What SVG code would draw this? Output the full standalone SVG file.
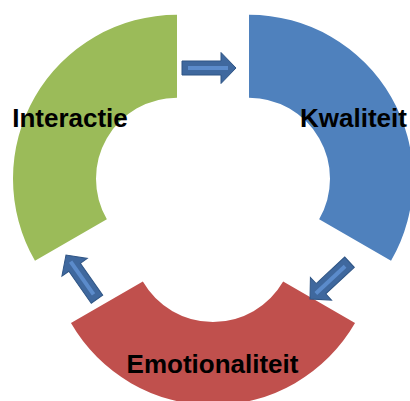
<svg xmlns="http://www.w3.org/2000/svg" width="410" height="401" viewBox="0 0 410 401">
  <style>
    .label { font-family: "Liberation Sans", Arial, sans-serif; font-weight: bold; font-size: 26px; fill: #000; }
    .arrow-body { fill: #3F689E; stroke: #2F5585; stroke-width: 1; stroke-linejoin: miter; }
    .arrow-shine { fill: #5B8BCB; }
  </style>
  <defs>
    <!-- right-pointing block arrow, tip at the origin -->
    <g id="block-arrow">
      <path class="arrow-body" d="M -54 -7 L -15 -7 L -15 -15.5 L 0 0 L -15 15.5 L -15 7 L -54 7 Z"/>
      <rect class="arrow-shine" x="-48" y="-2" width="40" height="4"/>
    </g>
  </defs>

  <!-- ring segments -->
  <g id="node-interactie">
    <path fill="#9BBB59" d="M 177 14.7 A 164 164 0 0 0 34.97 260.7 L 106.85 219.2 A 81 81 0 0 1 177 97.7 Z"/>
  </g>
  <g id="node-kwaliteit">
    <path fill="#4F81BD" d="M 249 14.7 A 164 164 0 0 1 391.03 260.7 L 319.15 219.2 A 81 81 0 0 0 249 97.7 Z"/>
  </g>
  <g id="node-emotionaliteit">
    <path fill="#C0504D" d="M 355.03 323.1 A 164 164 0 0 1 70.97 323.1 L 142.85 281.6 A 81 81 0 0 0 283.15 281.6 Z"/>
  </g>

  <!-- connectors -->
  <g id="connectors">
    <use href="#block-arrow" transform="translate(236 68)"/>
    <use href="#block-arrow" transform="translate(310 299) rotate(137)"/>
    <use href="#block-arrow" transform="translate(66 255) rotate(-125)"/>
  </g>

  <!-- labels -->
  <g id="labels">
    <text class="label" x="70" y="127" text-anchor="middle">Interactie</text>
    <text class="label" x="300" y="127">Kwaliteit</text>
    <text class="label" x="212.5" y="373" text-anchor="middle">Emotionaliteit</text>
  </g>
</svg>
